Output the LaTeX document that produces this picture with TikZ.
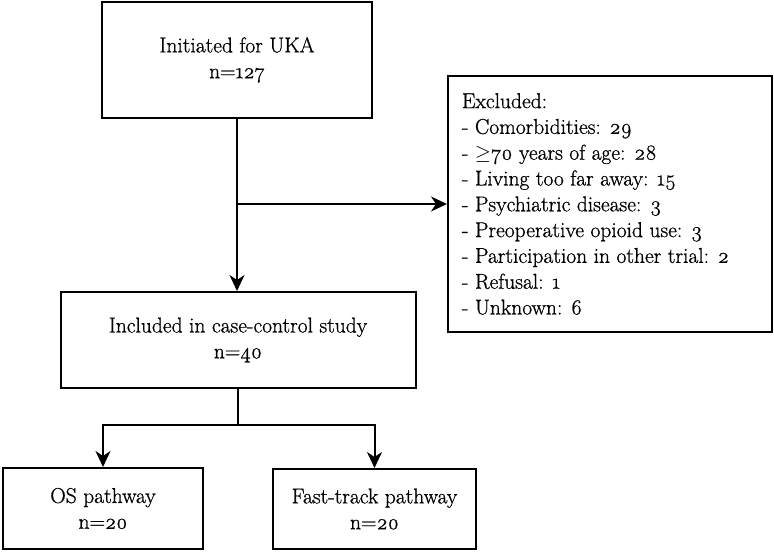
\documentclass[tikz,border=0pt]{standalone}
\usepackage{fontspec}
\setmainfont{Latin Modern Roman}[Numbers=OldStyle,FakeBold=0.8]
\usetikzlibrary{arrows.meta}
\begin{document}
\begin{tikzpicture}[x=1pt,y=1pt,line width=2pt,
  box/.style={draw,align=center,inner sep=0pt,font=\fontsize{21.5}{25.8}\selectfont},
  arr/.style={-{Stealth[length=16pt,width=15pt,inset=5pt]}}]
\useasboundingbox (0,0) rectangle (774,-552);
\node[box,minimum width=270pt,minimum height=116pt] (top) at (237,-60) {Initiated for UKA\\n=127};
\node[box,minimum width=324pt,minimum height=256pt,align=left] (excl) at (610,-204)
  {\parbox{296pt}{\raggedright Excluded:\\- Comorbidities: 29\\- $\geq$70 years of age: 28\\- Living too far away: 15\\- Psychiatric disease: 3\\- Preoperative opioid use: 3\\- Participation in other trial: 2\\- Refusal: 1\\- Unknown: 6}};
\node[box,minimum width=355pt,minimum height=96pt] (incl) at (238,-340) {Included in case-control study\\n=40};
\node[box,minimum width=200pt,minimum height=81pt] (os) at (103,-508.5) {OS pathway\\n=20};
\node[box,minimum width=203pt,minimum height=80pt] (ft) at (374.5,-509) {Fast-track pathway\\n=20};
\draw[arr] (top.south) -- (top.south |- incl.north);
\coordinate (br) at (237,-204);
\draw[arr] (br) -- (excl.west);
\coordinate (sp) at (238,-425);
\draw (incl.south) -- (sp);
\draw[arr] (sp) -| (os.north);
\draw[arr] (sp) -| (ft.north);
\end{tikzpicture}
\end{document}
